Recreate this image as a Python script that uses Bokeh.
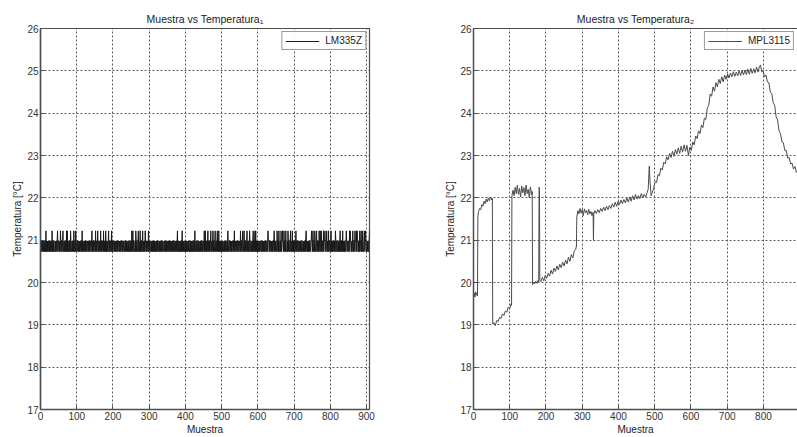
from bokeh.plotting import figure
from bokeh.layouts import row
from bokeh.models import LinearAxis, SingleIntervalTicker, FixedTicker, Range1d, Legend, LegendItem
from bokeh.embed import file_html
from bokeh.resources import INLINE

# ---------------- data ----------------
title1 = "Muestra vs Temperatura\u2081"
title2 = "Muestra vs Temperatura\u2082"
xlabel = "Muestra"
ylabel = "Temperatura [\u00b0C]"
legend1 = "LM335Z"
legend2 = "MPL3115"

# LM335Z: quantized readings, one code per sample (0,1,2 -> level)
lm_levels = [20.73, 20.98, 21.22]
lm_codes = [
    "01011010011010020101011010010110201101000101101201",
    "10010210100120010110102020100101021001011020010210",
    "01101001011001020110010110100110100101100120101001",
    "10200101200101102001011020101020010101200101102001",
    "01100101011010011010010110010110011010100110100101",
    "10201201000102101001201002010101201001021001011020",
    "01100101101010101001010110010110100101100110100101",
    "10010110100101101001011001012010100101010201101001",
    "01101001011001011010010110200110100101100101101001",
    "10200201010120100101200101201001200101201020101001",
    "01011001011010010210011010010110010201100101101001",
    "10200101200120101001201001021001011012010120201010",
    "10010101100101101001011001012110100110100101120101",
    "10021010200110200121102011020001021010012010020101",
    "01101201011001011010011001011010121010010101100121",
    "10200102100120100102102102011002011210012010020110",
    "01201010011010210110010110120101102010101001210110",
    "01021210010120010121102021101002011201021001201210",
    "011010012",
]

# MPL3115: (sample, temperature)
mpl_x = [0, 2, 4, 6, 8, 10, 11,
         12, 14, 17, 20, 23, 26, 29, 32, 35, 38, 41, 44, 47, 50, 52,
         53, 56, 60, 64, 68, 72, 76, 80, 84, 88, 92, 96, 100, 104, 105,
         106, 109, 112, 115, 118, 121, 124, 127, 130, 133, 136, 139, 142, 145, 148, 151, 154, 157, 160, 162,
         163, 166, 169, 172, 175, 178, 180,
         181, 182, 183,
         186, 190, 194, 198, 202, 206, 210, 214, 218, 222, 226, 230, 234, 238, 242, 246, 250, 254, 258,
         262, 266, 270, 274, 278, 282, 284,
         285, 288, 291, 294, 297, 300, 303, 306, 309, 312, 315, 318, 321, 324, 327, 330,
         331, 332,
         335, 339, 343, 347, 351, 355, 359, 363, 367, 371, 375, 379, 383, 387, 391, 395, 399, 403, 407,
         411, 415, 419, 423, 427, 431, 435, 439, 443, 447, 451, 455, 459, 463, 467, 471, 475, 479, 482,
         485, 487, 490, 493,
         497, 501, 505, 509, 513, 517, 521, 525, 529, 533, 537, 541, 545, 549, 553, 557, 561, 565, 569,
         573, 577, 581, 585, 589, 593, 597, 601, 605, 609, 613, 617, 621, 625, 629, 633, 637, 641, 645,
         649, 653, 657, 661, 665, 669, 673, 677, 681, 685, 689, 693, 697, 701, 705, 709, 713, 717, 721,
         725, 729, 733, 737, 741, 745, 749, 753, 757, 761, 765, 769, 773, 777, 781, 785, 789, 792, 795,
         799, 803, 807, 811, 815, 819, 823, 827, 831, 835, 839, 843, 847, 851, 855, 859, 863, 867, 871,
         875, 879, 883, 887, 891, 895, 899, 903, 908]
mpl_y = [19.62, 19.75, 19.66, 19.78, 19.70, 19.74, 19.68,
         21.55, 21.68, 21.75, 21.72, 21.84, 21.80, 21.92, 21.86, 21.97, 21.90, 22.00, 21.93, 22.02, 21.95, 21.99,
         19.02, 19.05, 18.98, 19.10, 19.08, 19.18, 19.15, 19.26, 19.22, 19.33, 19.30, 19.42, 19.38, 19.50, 19.46,
         22.05, 22.18, 22.05, 22.25, 22.10, 22.30, 22.08, 22.22, 22.02, 22.28, 22.12, 22.24, 22.05, 22.30, 22.10, 22.20, 22.00, 22.26, 22.08, 22.15,
         19.95, 20.00, 19.97, 20.03, 19.98, 20.05, 20.02,
         22.25, 22.20, 20.05,
         20.02, 20.12, 20.04, 20.17, 20.10, 20.22, 20.15, 20.29, 20.20, 20.34, 20.26, 20.39, 20.30, 20.43, 20.35, 20.48, 20.39, 20.53, 20.44,
         20.60, 20.50, 20.66, 20.58, 20.74, 20.78, 20.86,
         21.55, 21.70, 21.62, 21.75, 21.64, 21.72, 21.58, 21.74, 21.65, 21.70, 21.60, 21.73, 21.62, 21.68, 21.58, 21.66,
         21.00, 21.62,
         21.70, 21.63, 21.72, 21.65, 21.75, 21.68, 21.78, 21.70, 21.80, 21.72, 21.82, 21.75, 21.86, 21.78, 21.90, 21.80, 21.92, 21.84, 21.95,
         21.86, 21.96, 21.88, 22.00, 21.90, 22.02, 21.92, 22.05, 21.95, 22.08, 21.97, 22.05, 21.98, 22.10, 22.00, 22.08, 22.02, 22.12, 22.20,
         22.75, 22.40, 22.05, 22.12,
         22.22, 22.38, 22.36, 22.55, 22.52, 22.70, 22.66, 22.84, 22.80, 22.97, 22.90, 23.05, 22.95, 23.10, 22.98, 23.14, 23.03, 23.18, 23.05,
         23.22, 23.08, 23.25, 23.10, 23.24, 23.00, 23.20, 23.12, 23.32, 23.25, 23.46, 23.40, 23.58, 23.52, 23.72, 23.66, 23.88, 23.85, 24.12,
         24.18, 24.45, 24.40, 24.62, 24.52, 24.72, 24.62, 24.80, 24.70, 24.86, 24.74, 24.90, 24.80, 24.93, 24.83, 24.95, 24.86, 24.98, 24.87,
         24.97, 24.88, 25.00, 24.89, 25.01, 24.90, 25.02, 24.91, 25.04, 24.92, 25.06, 24.94, 25.05, 24.95, 25.09, 24.97, 25.10, 25.14, 24.98,
         25.00, 24.86, 24.90, 24.74, 24.72, 24.50, 24.46, 24.25, 24.18, 23.92, 23.84, 23.58, 23.52, 23.32, 23.30, 23.12, 23.12, 22.94, 22.95,
         22.80, 22.82, 22.68, 22.74, 22.60, 22.64, 22.52, 22.56, 22.48]

codes1 = "".join(lm_codes)
lm_x = list(range(len(codes1)))
lm_y = [lm_levels[int(c)] for c in codes1]

FONT = "Liberation Sans"
AX = "#4d4d4d"
GRID = "#5a5a5a"


def make_fig(title, width, xend, border_left, border_right, xs, ys, label, color, boxed):
    p = figure(width=width, height=437, output_backend="svg", toolbar_location=None,
               x_range=Range1d(0, xend), y_range=Range1d(17, 26),
               min_border_left=border_left, min_border_right=border_right, min_border_top=28,
               min_border_bottom=26, background_fill_color="white",
               border_fill_color="white")
    p.title.text = title
    p.title.align = "center"
    p.title.text_font = FONT
    p.title.text_font_size = "10.5px"
    p.title.text_font_style = "normal"
    p.title.text_color = "#222222"
    p.title.standoff = 8
    p.outline_line_color = AX if boxed else None
    p.outline_line_width = 1.2

    for ax in (p.xaxis[0], p.yaxis[0]):
        ax.major_tick_in = 4
        ax.major_tick_out = 0
        ax.minor_tick_in = 0
        ax.minor_tick_out = 0
        ax.axis_line_color = AX
        ax.axis_line_width = 1.5
        ax.major_tick_line_color = AX
        ax.major_label_text_font = FONT
        ax.major_label_text_font_size = "10px"
        ax.major_label_text_color = "#333333"
        ax.axis_label_text_font = FONT
        ax.axis_label_text_font_size = "10px"
        ax.axis_label_text_font_style = "normal"
        ax.axis_label_text_color = "#222222"
        ax.major_label_standoff = 2
        ax.axis_label_standoff = 1
    p.xaxis[0].ticker = SingleIntervalTicker(interval=100)
    p.yaxis[0].ticker = SingleIntervalTicker(interval=1)
    p.xaxis[0].axis_label = xlabel
    p.yaxis[0].axis_label = ylabel

    if not boxed:
        top = LinearAxis(ticker=FixedTicker(ticks=[]))
        top.axis_line_color = AX
        top.axis_line_width = 1.2
        top.major_label_standoff = 0
        p.add_layout(top, "above")

    p.xgrid.ticker = SingleIntervalTicker(interval=100)
    p.ygrid.ticker = SingleIntervalTicker(interval=1)
    for g in (p.xgrid[0], p.ygrid[0]):
        g.grid_line_color = GRID
        g.grid_line_dash = "2 2"
        g.grid_line_width = 1

    r = p.line(xs, ys, line_color=color, line_width=1)
    leg = Legend(items=[LegendItem(label=label, renderers=[r])], location="top_right")
    leg.label_text_font = FONT
    leg.label_text_font_size = "10px"
    leg.label_text_color = "#222222"
    leg.border_line_color = "#333333"
    leg.border_line_width = 1
    leg.margin = 3
    leg.padding = 3
    leg.glyph_width = 34
    leg.glyph_height = 10
    leg.label_height = 10
    leg.label_standoff = 6
    leg.spacing = 0
    p.add_layout(leg)
    return p


p1 = make_fig(title1, 441, 908, 40, 72, lm_x, lm_y, legend1, "#1a1a1a", True)
p2 = make_fig(title2, 356, 894, 32, 0, mpl_x, mpl_y, legend2, "#4a4a4a", False)

layout = row(p1, p2)
open("out.html", "w").write(file_html(layout, INLINE))
